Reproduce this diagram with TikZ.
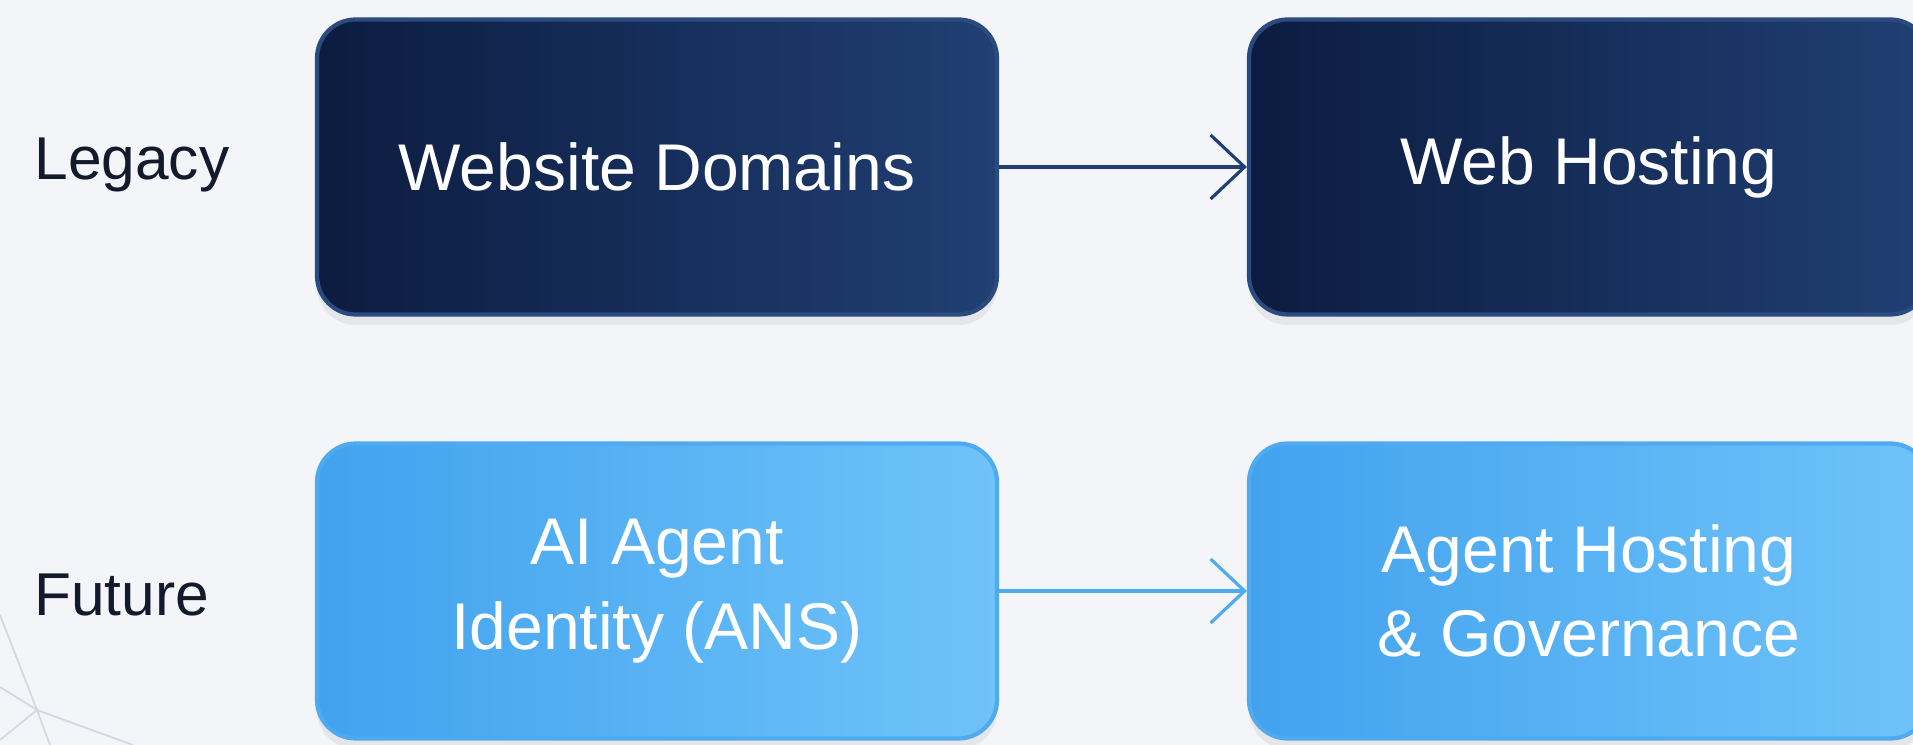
\documentclass[tikz,border=0pt]{standalone}
\usepackage{fontspec}
\setmainfont{Liberation Sans}
\usetikzlibrary{arrows.meta,shadows}

\definecolor{bgcol}{HTML}{F3F5F8}
\definecolor{navyA}{HTML}{0C1C40}
\definecolor{navyB}{HTML}{203F73}
\definecolor{navyEdge}{HTML}{2B4A7E}
\definecolor{skyA}{HTML}{42A2EE}
\definecolor{skyB}{HTML}{6FC3F9}
\definecolor{skyEdge}{HTML}{4FAAF0}
\definecolor{labelcol}{HTML}{121A2B}
\definecolor{meshcol}{HTML}{D3D9E2}

\tikzset{
  stage/.style={rounded corners=11pt, minimum width=6.8cm, minimum height=2.95cm,
    line width=1.2pt, align=center, text=white,
    font=\fontsize{18.8}{24}\selectfont,
    drop shadow={opacity=0.12, shadow xshift=0pt, shadow yshift=-3pt}},
  legacybox/.style={stage, draw=navyEdge, left color=navyA, right color=navyB},
  futurebox/.style={stage, draw=skyEdge, left color=skyA, right color=skyB},
  rowlabel/.style={anchor=west, text=labelcol, font=\fontsize{17.2}{21}\selectfont},
  flow/.style={line width=0.9pt, -{Straight Barb[length=3.4mm, width=6.4mm, line width=0.9pt]}}
}

\begin{document}
\begin{tikzpicture}[scale=1]
  \fill[bgcol] (0,0) rectangle (19.13,7.45);
  \clip (0,0) rectangle (19.13,7.45);

  % faint mesh, lower left
  \draw[meshcol, line width=0.5pt] (0,1.30) -- (0.37,0.35) -- (0.50,0);
  \draw[meshcol, line width=0.5pt] (0,0.58) -- (0.37,0.35) -- (1.33,0);
  \draw[meshcol, line width=0.5pt] (0.37,0.35) -- (0,0.05);

  \coordinate (R1) at (6.57,5.78);
  \coordinate (R2) at (6.57,1.54);

  \node[legacybox] (domains) at (R1) {Website Domains};
  \node[legacybox] (webhost) at (15.89,5.78) {Web Hosting};
  \node[futurebox] (identity) at (R2) {AI Agent\\Identity (ANS)};
  \node[futurebox] (agenthost) at (15.89,1.54) {Agent Hosting\\\& Governance};

  \node[rowlabel] (legacy) at (0.22,5.80) {Legacy};
  \node[rowlabel] (future) at (0.22,1.50) {Future};

  \draw[flow, navyB] (domains.east) -- (webhost.west);
  \draw[flow, skyEdge] (identity.east) -- (agenthost.west);
\end{tikzpicture}
\end{document}
